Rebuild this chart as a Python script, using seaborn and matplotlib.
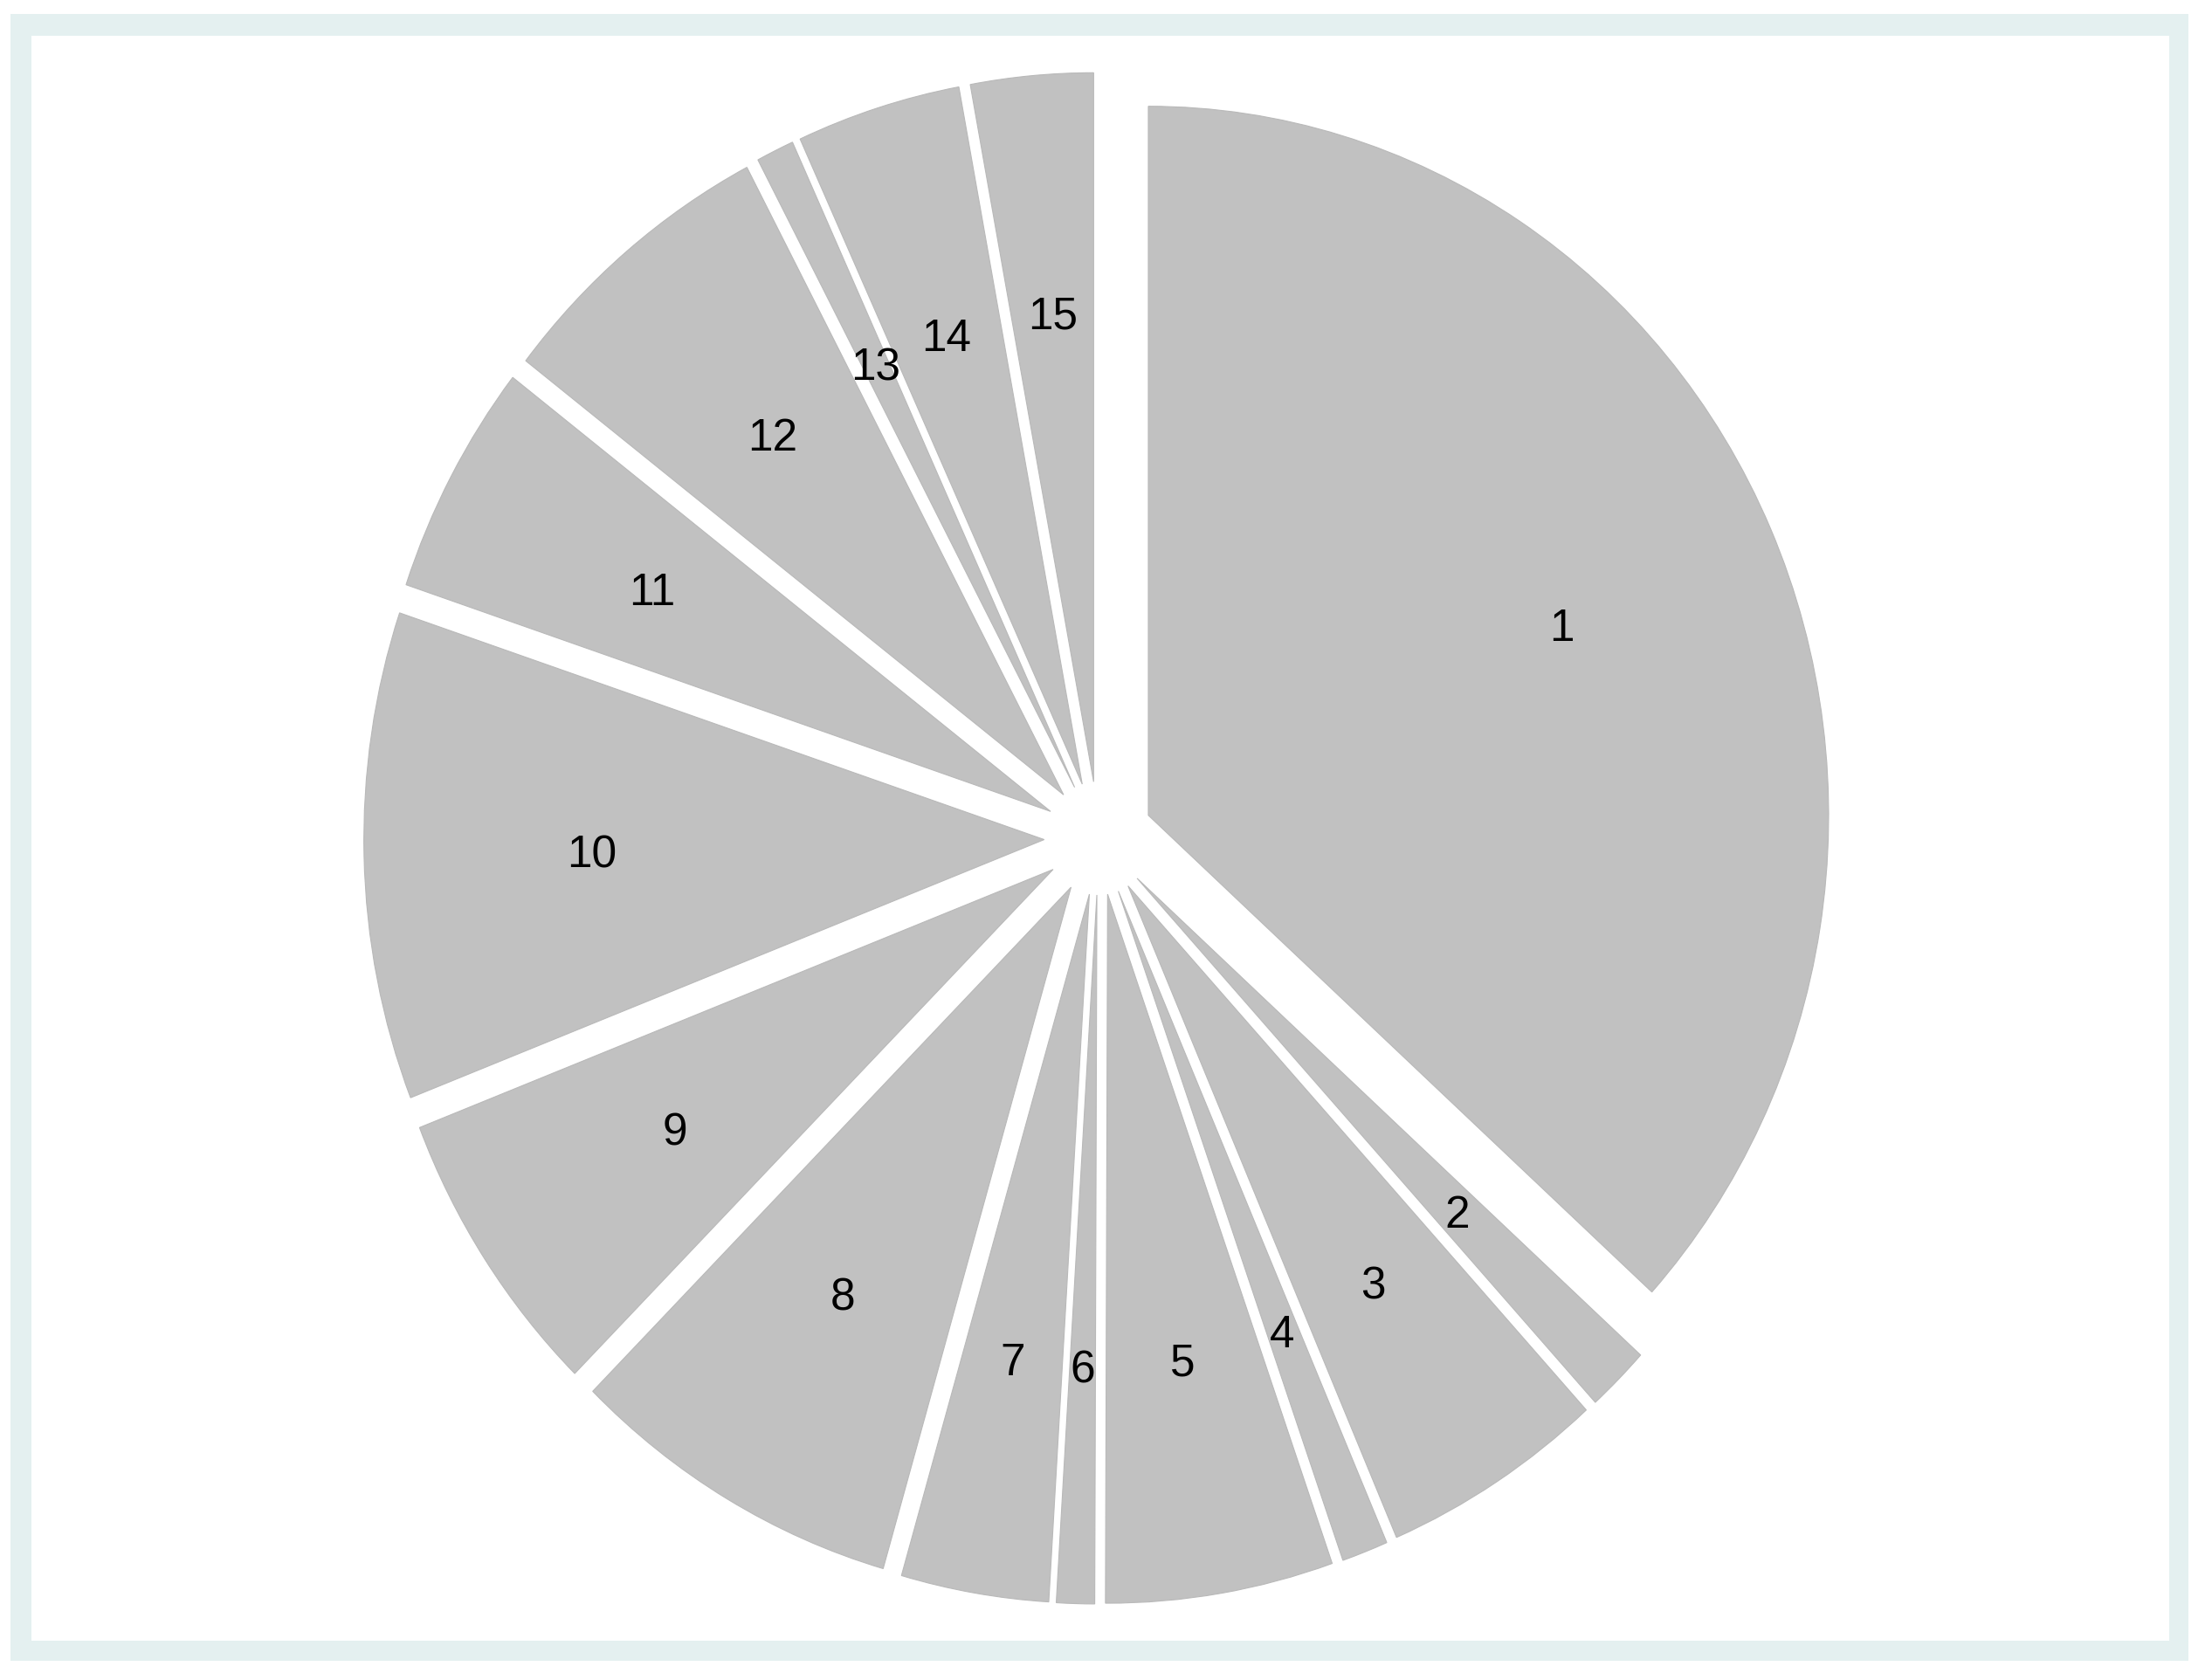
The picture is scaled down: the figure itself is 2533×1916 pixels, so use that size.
import matplotlib
matplotlib.use("Agg")
import matplotlib.pyplot as plt
import seaborn as sns
from matplotlib.patches import Rectangle

# ---- data (share of each slice) ----
slice_labels = ["1", "2", "3", "4", "5", "6", "7", "8", "9", "10", "11", "12", "13", "14", "15"]
slice_shares = [36.7, 1.5, 5.3, 1.1, 5.4, 0.9, 3.5, 7.95, 6.65, 11.1, 5.3, 6.8, 0.9, 3.9, 2.9]
explode_amount = [0.08] * len(slice_shares)

sns.set_theme(style="white")
plt.rcParams["font.family"] = ["Liberation Sans", "DejaVu Sans"]

W, H, DPI = 2533, 1916, 100
fig = plt.figure(figsize=(W / DPI, H / DPI), dpi=DPI)
fig.patch.set_facecolor("white")

# outer light-teal frame and white inner region
fig.patches.append(Rectangle((12 / W, (H - 1902) / H), (2506 - 12) / W, (1902 - 16) / H,
                             transform=fig.transFigure, facecolor="#E4F0F0",
                             edgecolor="none", zorder=-2))
fig.patches.append(Rectangle((36 / W, (H - 1879) / H), (2484 - 36) / W, (1879 - 41) / H,
                             transform=fig.transFigure, facecolor="white",
                             edgecolor="none", zorder=-1))

ax = fig.add_axes([0, 0, 1, 1])
ax.set_zorder(1)
ax.patch.set_alpha(0)

wedges, texts = ax.pie(
    slice_shares,
    labels=slice_labels,
    explode=explode_amount,
    startangle=90,
    counterclock=False,
    labeldistance=0.665,
    colors=["#C1C1C1"] * len(slice_shares),
    wedgeprops=dict(edgecolor="#B9B9B9", linewidth=0.8),
    textprops=dict(color="black", fontsize=37),
)
for t in texts:
    t.set_ha("center")
    t.set_va("center_baseline")

# pixel mapping: centre at (1258, 960) from top, 779 px/unit in x, 812 px/unit in y
cx, cy, sx, sy = 1258, 960, 779, 812
ax.set_aspect("auto")
ax.set_xlim(-cx / sx, (W - cx) / sx)
ax.set_ylim(-(H - cy) / sy, cy / sy)
ax.axis("off")

fig.savefig("out.png", dpi=DPI, facecolor="white")
